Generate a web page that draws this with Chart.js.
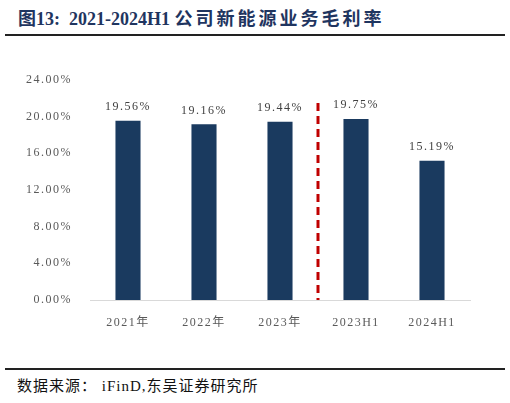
<!DOCTYPE html>
<html><head><meta charset="utf-8">
<script src="https://cdn.jsdelivr.net/npm/chart.js@4"></script>
<style>
body{margin:0;width:510px;height:403px;background:#fff;position:relative;overflow:hidden;font-family:"Liberation Serif","Noto Sans CJK SC",serif}
#t{position:absolute;left:18px;top:4px;font-size:18px;font-weight:bold;color:#1f3560;font-family:"Liberation Serif","Noto Sans CJK SC",serif}
#t .c{letter-spacing:3px}
.ln{position:absolute;left:5px;width:500px;height:2px;background:#222}
#s{position:absolute;left:17px;top:374px;font-size:15px;color:#111;letter-spacing:1px;font-family:"Liberation Serif","Noto Sans CJK SC",serif}
#w{position:absolute;left:0;top:60px;width:510px;height:272px}
</style></head><body>
<div id="t">图13:&nbsp; 2021-2024H1 <span class="c">公司新能源业务毛利率</span></div>
<div class="ln" style="top:34px"></div>
<div id="w"><canvas id="c"></canvas></div>
<div class="ln" style="top:368px"></div>
<div id="s">数据来源：&nbsp;iFinD,东吴证券研究所</div>
<script>
const categories=["2021年","2022年","2023年","2023H1","2024H1"];
const margins=[19.56,19.16,19.44,19.75,15.19];
const yTicks=[0,4,8,12,16,20,24];
const font={family:"Liberation Serif, Noto Sans CJK SC, serif",size:12};
const spacing={id:'sp',beforeDraw(ch){ch.ctx.letterSpacing="1.5px";}};
const labelPlugin={id:'lbl',afterDatasetsDraw(ch){
  const ctx=ch.ctx,meta=ch.getDatasetMeta(0);
  ctx.save();ctx.letterSpacing="1.5px";ctx.font="12px "+font.family;ctx.fillStyle="#404040";ctx.textAlign="center";ctx.textBaseline="bottom";
  meta.data.forEach((b,i)=>ctx.fillText(margins[i].toFixed(2)+"%",b.x,b.y-8));
  const x=ch.scales.x,y=ch.scales.y;
  const px=(x.getPixelForValue(2)+x.getPixelForValue(3))/2;
  ctx.strokeStyle="#c00000";ctx.lineWidth=3;ctx.setLineDash([8,5]);
  ctx.beginPath();ctx.moveTo(px,y.getPixelForValue(21.5));ctx.lineTo(px,y.getPixelForValue(0));ctx.stroke();
  ctx.restore();}};
new Chart(document.getElementById('c'),{type:'bar',
 data:{labels:categories,datasets:[{data:margins,backgroundColor:'#1a3a5f',barPercentage:0.33,categoryPercentage:1}]},
 options:{responsive:true,maintainAspectRatio:false,animation:false,
  layout:{padding:{top:20,right:40}},
  plugins:{legend:{display:false},tooltip:{enabled:false}},
  scales:{
   x:{grid:{display:false},border:{color:'#d9d9d9',width:1},ticks:{color:'#595959',font:font,padding:8},afterFit(s){s.height=32;}},
   y:{min:0,max:24,afterBuildTicks(s){s.ticks=yTicks.map(v=>({value:v}));},
      grid:{display:false},border:{display:false},
      ticks:{color:'#595959',font:font,padding:10,callback:v=>v.toFixed(2)+"%"},afterFit(s){s.width=90;}}
  }},plugins:[spacing,labelPlugin]});
</script></body></html>
